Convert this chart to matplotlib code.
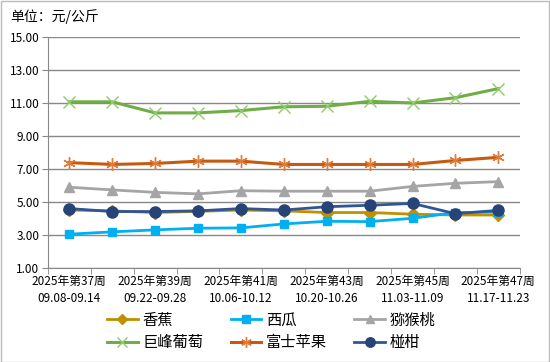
import numpy as np
import matplotlib
matplotlib.use("Agg")
import matplotlib.pyplot as plt

plt.rcParams['font.family'] = ['Noto Sans CJK SC', 'DejaVu Sans']

# weeks 37..47
weeks = ['2025年第37周\n09.08-09.14', '', '2025年第39周\n09.22-09.28', '',
         '2025年第41周\n10.06-10.12', '', '2025年第43周\n10.20-10.26', '',
         '2025年第45周\n11.03-11.09', '', '2025年第47周\n11.17-11.23']

banana = [4.50, 4.45, 4.35, 4.42, 4.50, 4.45, 4.35, 4.35, 4.25, 4.20, 4.20]
watermelon = [3.04, 3.18, 3.30, 3.40, 3.42, 3.66, 3.82, 3.80, 4.00, 4.35, 4.38]
kiwi = [5.88, 5.72, 5.57, 5.48, 5.67, 5.64, 5.64, 5.64, 5.93, 6.12, 6.22]
grape = [11.05, 11.05, 10.38, 10.38, 10.52, 10.75, 10.78, 11.08, 10.98, 11.30, 11.85]
apple = [7.37, 7.26, 7.32, 7.46, 7.46, 7.26, 7.26, 7.26, 7.26, 7.50, 7.69]
mandarin = [4.59, 4.41, 4.41, 4.45, 4.59, 4.50, 4.70, 4.79, 4.90, 4.28, 4.48]

names = ['香蕉', '西瓜', '猕猴桃', '巨峰葡萄', '富士苹果', '椪柑']

fig = plt.figure(figsize=(5.5, 3.62), dpi=100)
ax = fig.add_axes([0.087, 0.26, 0.858, 0.639])
x = np.arange(len(weeks))

lines = []
lines += ax.plot(x, banana, color='#BF9000', lw=2, marker='D', ms=6, label=names[0])
lines += ax.plot(x, watermelon, color='#00B0F0', lw=2, marker='s', ms=6, label=names[1])
lines += ax.plot(x, kiwi, color='#A5A5A5', lw=2, marker='^', ms=7, label=names[2])
lines += ax.plot(x, grape, color='#70AD47', lw=2.2, marker='x', ms=8, mew=1,
                 mec='#8FCB6B', label=names[3])
lines += ax.plot(x, apple, color='#C55A11', lw=2.2, marker=(6, 2, 0), ms=9, mew=1,
                 mec='#E07B39', label=names[4])
lines += ax.plot(x, mandarin, color='#2F5597', lw=2, marker='o', ms=8, mfc='#264478',
                 mec='#264478', label=names[5])

ax.set_xlim(-0.5, len(weeks) - 0.5)
ax.set_ylim(1, 15)
ax.set_yticks(np.arange(1, 16, 2))
ax.set_yticklabels(['%.2f' % v for v in np.arange(1, 16, 2)], fontsize=8.5)
ax.set_xticks(x)
ax.set_xticklabels(weeks, fontsize=8.5, linespacing=1.45)
ax.set_xticks(np.arange(-0.5, len(weeks), 1), minor=True)
ax.tick_params(axis='x', which='major', length=0, pad=5)
ax.tick_params(axis='x', which='minor', length=4, color='#888888')
ax.tick_params(axis='y', length=4, color='#888888', pad=2)
ax.grid(axis='y', color='#888888', lw=1)
ax.set_axisbelow(True)
for s in ['top', 'right']:
    ax.spines[s].set_visible(False)
for s in ['left', 'bottom']:
    ax.spines[s].set_color('#888888')

fig.text(0.018, 0.955, '单位：元/公斤', fontsize=10, va='center')

# legend filled row by row
order = [0, 3, 1, 4, 2, 5]
fig.legend([lines[i] for i in order], [names[i] for i in order],
           loc='center', bbox_to_anchor=(0.493, 0.085), ncol=3, frameon=False,
           fontsize=11, handlelength=2.0, columnspacing=1.8, handletextpad=0.3,
           labelspacing=0.35, markerscale=0.85)

border = plt.Rectangle((0.001, 0.001), 0.997, 0.997, transform=fig.transFigure,
                       fill=False, ec='#BBBBBB', lw=1)
fig.patches.append(border)

fig.savefig('out.png', dpi=100, facecolor='white')
